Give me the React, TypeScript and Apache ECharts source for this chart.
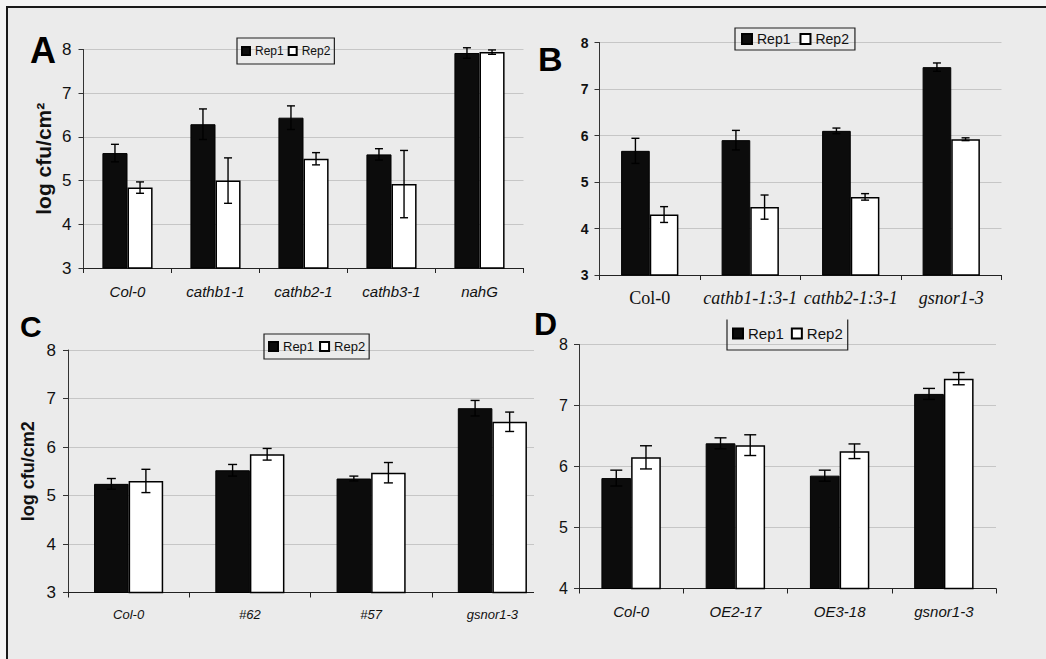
import React, { useEffect, useRef } from 'react';
import * as echarts from 'echarts';

// ---------- data ----------
const catsA = ['Col-0', 'cathb1-1', 'cathb2-1', 'cathb3-1', 'nahG'];
const aRep1 = [5.63, 6.29, 6.44, 5.6, 7.92];
const aRep1Err = [0.2, 0.35, 0.27, 0.13, 0.12];
const aRep2 = [4.84, 5.0, 5.5, 4.92, 7.94];
const aRep2Err = [0.13, 0.52, 0.14, 0.77, 0.05];

const catsB = ['Col-0', 'cathb1-1:3-1', 'cathb2-1:3-1', 'gsnor1-3'];
const bRep1 = [5.67, 5.9, 6.1, 7.47];
const bRep1Err = [0.27, 0.21, 0.06, 0.09];
const bRep2 = [4.3, 4.46, 4.68, 5.92];
const bRep2Err = [0.17, 0.26, 0.07, 0.03];

const catsC = ['Col-0', '#62', '#57', 'gsnor1-3'];
const cRep1 = [5.24, 5.52, 5.35, 6.8];
const cRep1Err = [0.11, 0.12, 0.05, 0.16];
const cRep2 = [5.3, 5.85, 5.47, 6.52];
const cRep2Err = [0.24, 0.12, 0.21, 0.2];

const catsD = ['Col-0', 'OE2-17', 'OE3-18', 'gsnor1-3'];
const dRep1 = [5.81, 6.38, 5.85, 7.19];
const dRep1Err = [0.13, 0.09, 0.09, 0.09];
const dRep2 = [6.15, 6.35, 6.25, 7.44];
const dRep2Err = [0.19, 0.17, 0.12, 0.1];

const yRangeABC = [3, 8];
const yRangeD = [4, 8];
const seriesNames = ['Rep1', 'Rep2'];

// ---------- style ----------
const SANS = '"Liberation Sans", Arial, sans-serif';
const SERIF = '"Liberation Serif", "Times New Roman", serif';
const BG = '#ebebeb';
const OUTER = '#f5f5f5';
const GAP = 0.43;

function errSeries(idx: number, vals: number[], errs: number[], side: number, capHalf: number) {
  return {
    type: 'custom',
    xAxisIndex: idx,
    yAxisIndex: idx,
    z: 5,
    silent: true,
    data: vals.map((v, i) => [i, v, errs[i]]),
    renderItem: (params: any, api: any) => {
      const i = api.value(0);
      const v = api.value(1);
      const e = api.value(2);
      const cw = api.size([1, 0])[0];
      const bw = (cw * (1 - GAP)) / 2;
      const top = api.coord([i, v + e]);
      const bot = api.coord([i, v - e]);
      const x = top[0] + (side * bw) / 2;
      const style = { stroke: '#000', lineWidth: 1.4 };
      return {
        type: 'group',
        children: [
          { type: 'line', shape: { x1: x, y1: top[1], x2: x, y2: bot[1] }, style },
          { type: 'line', shape: { x1: x - capHalf, y1: top[1], x2: x + capHalf, y2: top[1] }, style },
          { type: 'line', shape: { x1: x - capHalf, y1: bot[1], x2: x + capHalf, y2: bot[1] }, style },
        ],
      };
    },
  };
}

function barSeries(idx: number, name: string, vals: number[]) {
  const black = name === 'Rep1';
  return {
    type: 'bar',
    name,
    xAxisIndex: idx,
    yAxisIndex: idx,
    data: vals,
    barGap: '0%',
    barCategoryGap: '43%',
    z: 2,
    itemStyle: black
      ? { color: '#0c0c0c', borderColor: '#000', borderWidth: 1 }
      : { color: '#ffffff', borderColor: '#000', borderWidth: 1.5 },
  };
}

function xAxis(idx: number, cats: string[], fontSize: number, margin: number, fontFamily: string, rich?: any, formatter?: any) {
  return {
    type: 'category',
    gridIndex: idx,
    data: cats,
    axisLine: { show: true, lineStyle: { color: '#222', width: 1 } },
    axisTick: { show: true, length: 5, lineStyle: { color: '#222' } },
    splitLine: { show: false },
    axisLabel: {
      interval: 0,
      fontFamily,
      fontSize,
      fontStyle: 'italic',
      color: '#111',
      margin,
      rich,
      formatter,
    },
  };
}

function yAxis(idx: number, range: number[], fontSize: number, margin: number, bold: boolean, name?: string, nameSize?: number, nameGap?: number) {
  return {
    type: 'value',
    gridIndex: idx,
    min: range[0],
    max: range[1],
    interval: 1,
    axisLine: { show: true, lineStyle: { color: '#333', width: 1 } },
    axisTick: { show: true, length: 5, lineStyle: { color: '#333' } },
    splitLine: { show: true, lineStyle: { color: '#c6c6c6', width: 1 } },
    axisLabel: { fontFamily: SANS, fontSize, color: '#111', margin, fontWeight: bold ? 'bold' : 'normal' },
    name: name || '',
    nameLocation: 'middle',
    nameRotate: 90,
    nameGap: nameGap || 30,
    nameTextStyle: { fontFamily: SANS, fontWeight: 'bold', fontSize: nameSize || 16, color: '#111' },
  };
}

function legend(left: number, top: number, fontSize: number, icon: number, padding: number[], itemGap: number) {
  return {
    show: true,
    data: seriesNames,
    left,
    top,
    orient: 'horizontal',
    icon: 'rect',
    itemWidth: icon,
    itemHeight: icon,
    itemGap,
    padding,
    borderColor: '#222',
    borderWidth: 1.2,
    borderRadius: 0,
    backgroundColor: 'transparent',
    selectedMode: false,
    textStyle: { fontFamily: SANS, fontSize, color: '#111' },
  };
}

function letter(t: string, x: number, y: number, size: number) {
  return {
    type: 'text',
    x,
    y,
    z: 120,
    style: { text: t, fill: '#000', font: `bold ${size}px ${SANS}`, verticalAlign: 'middle', align: 'left' },
  };
}

export default function App() {
  const ref = useRef<HTMLDivElement>(null);
  useEffect(() => {
    if (!ref.current) return;
    const chart = echarts.init(ref.current, undefined, { renderer: 'svg' });
    const option: any = {
      animation: false,
      backgroundColor: BG,
      grid: [
        { left: 83.5, top: 49.5, width: 440, height: 218.5 },
        { left: 599.5, top: 42.5, width: 402, height: 232.5 },
        { left: 68, top: 350, width: 485, height: 242.5 },
        { left: 579, top: 344.5, width: 417, height: 244 },
      ],
      xAxis: [
        xAxis(0, catsA, 15, 16, SANS),
        xAxis(1, catsB, 18, 14, SERIF, {
          n: { fontFamily: SERIF, fontSize: 18, fontStyle: 'normal', color: '#111' },
          i: { fontFamily: SERIF, fontSize: 18, fontStyle: 'italic', color: '#111' },
        }, (v: string) => (v === 'Col-0' ? `{n|${v}}` : `{i|${v}}`)),
        xAxis(2, catsC, 13, 15, SANS),
        xAxis(3, catsD, 15, 15, SANS),
      ],
      yAxis: [
        yAxis(0, yRangeABC, 17, 12, false, 'log cfu/cm²', 21, 30),
        yAxis(1, yRangeABC, 14, 11, true),
        yAxis(2, yRangeABC, 17, 12, false, 'log cfu/cm2', 18, 31),
        yAxis(3, yRangeD, 16, 11, false),
      ],
      legend: [
        legend(237, 38, 12, 8, [7, 4], 4),
        legend(735, 28, 14, 10, [4, 6], 9),
        legend(264, 334, 13, 9, [6, 4], 5),
        legend(727, 317, 15, 10, [9, 5], 7),
      ],
      series: [
        barSeries(0, 'Rep1', aRep1),
        barSeries(0, 'Rep2', aRep2),
        errSeries(0, aRep1, aRep1Err, -1, 4),
        errSeries(0, aRep2, aRep2Err, 1, 4),
        barSeries(1, 'Rep1', bRep1),
        barSeries(1, 'Rep2', bRep2),
        errSeries(1, bRep1, bRep1Err, -1, 4),
        errSeries(1, bRep2, bRep2Err, 1, 4),
        barSeries(2, 'Rep1', cRep1),
        barSeries(2, 'Rep2', cRep2),
        errSeries(2, cRep1, cRep1Err, -1, 4.5),
        errSeries(2, cRep2, cRep2Err, 1, 4.5),
        barSeries(3, 'Rep1', dRep1),
        barSeries(3, 'Rep2', dRep2),
        errSeries(3, dRep1, dRep1Err, -1, 6),
        errSeries(3, dRep2, dRep2Err, 1, 6),
      ],
      graphic: [
        { type: 'rect', z: 100, shape: { x: 0, y: 0, width: 1046, height: 6 }, style: { fill: OUTER } },
        { type: 'rect', z: 100, shape: { x: 0, y: 0, width: 6, height: 659 }, style: { fill: OUTER } },
        { type: 'line', z: 110, shape: { x1: 6, y1: 7, x2: 1046, y2: 7 }, style: { stroke: '#1a1a1a', lineWidth: 2 } },
        { type: 'line', z: 110, shape: { x1: 7, y1: 6, x2: 7, y2: 659 }, style: { stroke: '#1a1a1a', lineWidth: 2 } },
        // panel D overlaps the right end of panel C
        { type: 'rect', z: 100, shape: { x: 534, y: 338, width: 23, height: 268 }, style: { fill: BG } },
        // panel B overlaps the top edge of panel D's legend
        { type: 'rect', z: 100, shape: { x: 718, y: 312, width: 150, height: 7.5 }, style: { fill: BG } },
        letter('A', 30, 50, 36),
        letter('B', 538, 58.5, 34),
        letter('C', 20, 326.5, 30),
        letter('D', 534, 324, 32),
      ],
    };
    chart.setOption(option);
    return () => chart.dispose();
  }, []);
  return <div ref={ref} style={{ position: 'fixed', left: 0, top: 0, width: 1046, height: 659 }} />;
}
